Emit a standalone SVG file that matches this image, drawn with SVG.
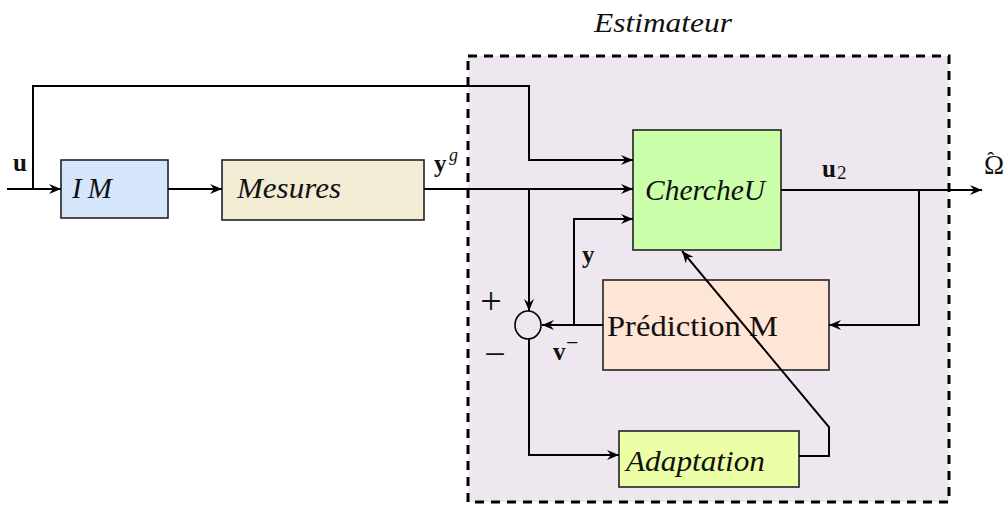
<svg xmlns="http://www.w3.org/2000/svg" width="1005" height="506" viewBox="0 0 1005 506">
<defs>
<marker id="arr" markerWidth="15" markerHeight="11" viewBox="-13 -5.5 15 11" refX="0" refY="0" orient="auto" markerUnits="userSpaceOnUse">
<path d="M0,0 L-12,-5 L-8,0 L-12,5 Z" fill="#000"/>
</marker>
<style>
.t{font-family:"Liberation Serif","DejaVu Serif",serif;fill:#111}
.i{font-style:italic}
.b{font-weight:bold}
.box{stroke:#222;stroke-width:1.6}
.c{fill:none;stroke:#000;stroke-width:2}
.a{marker-end:url(#arr)}
</style>
</defs>
<rect width="1005" height="506" fill="#fff"/>
<g id="estimateur">
<rect x="468" y="56" width="481" height="446" fill="#efe7ef" stroke="#000" stroke-width="3" stroke-dasharray="9,7"/>
<text class="t i" x="594" y="32" font-size="28" textLength="138" lengthAdjust="spacingAndGlyphs">Estimateur</text>
</g>
<g id="IM">
<rect class="box" x="61" y="160" width="107" height="58" fill="#d5e5fb"/>
<text class="t i" x="72" y="198" font-size="29" textLength="40">IM</text>
</g>
<g id="Mesures">
<rect class="box" x="222" y="160" width="202" height="60" fill="#f2ecd5"/>
<text class="t i" x="237" y="198" font-size="30" textLength="104" lengthAdjust="spacingAndGlyphs">Mesures</text>
</g>
<g id="ChercheU">
<rect class="box" x="633" y="130" width="148" height="120" fill="#ccffaa"/>
<text class="t i" x="645" y="200" font-size="30" textLength="120" lengthAdjust="spacingAndGlyphs">ChercheU</text>
</g>
<g id="Prediction">
<rect class="box" x="603" y="280" width="226" height="90" fill="#ffe5d5"/>
<text class="t" x="607" y="336" font-size="30" textLength="171" lengthAdjust="spacingAndGlyphs">Prédiction M</text>
</g>
<g id="Adaptation">
<rect class="box" x="619" y="431" width="180" height="56" fill="#ecffa6"/>
<text class="t i" x="626" y="471" font-size="30" textLength="139" lengthAdjust="spacingAndGlyphs">Adaptation</text>
</g>
<g id="sum">
<ellipse cx="528" cy="325" rx="13" ry="14" fill="none" stroke="#000" stroke-width="1.6"/>
<text class="t" x="491" y="314" font-size="38" text-anchor="middle">+</text>
<text class="t" x="495" y="367" font-size="38" text-anchor="middle">−</text>
</g>
<g id="connectors">
<path class="c a" d="M7,189 L61,189"/>
<path class="c a" d="M33,189 L33,86 L529,86 L529,160 L633,160"/>
<path class="c a" d="M168,189 L222,189"/>
<path class="c a" d="M424,189 L633,189"/>
<path class="c a" d="M529,189 L529,311"/>
<path class="c a" d="M781,190 L982,190"/>
<path class="c a" d="M919,190 L919,325 L829,325"/>
<path class="c a" d="M603,325 L542,325"/>
<path class="c a" d="M574,325 L574,219 L633,219"/>
<path class="c a" d="M529,339 L529,455 L619,455"/>
<path class="c a" d="M799,456 L829,456 L829,427 L682,251"/>
</g>
<g id="labels">
<text class="t b" x="13" y="171" font-size="25">u</text>
<text class="t b" x="434" y="172" font-size="25">y</text>
<text class="t i" x="449" y="161" font-size="18">g</text>
<text class="t b" x="822" y="177" font-size="25">u</text>
<text class="t" x="837" y="179" font-size="19">2</text>
<text class="t" x="984" y="174" font-size="27">Ω<tspan dx="-17" dy="-7" font-size="22">ˆ</tspan></text>
<text class="t b" x="582" y="263" font-size="25">y</text>
<text class="t b" x="553" y="360" font-size="25">v</text>
<text class="t" x="566" y="350" font-size="22">−</text>
</g>
</svg>
